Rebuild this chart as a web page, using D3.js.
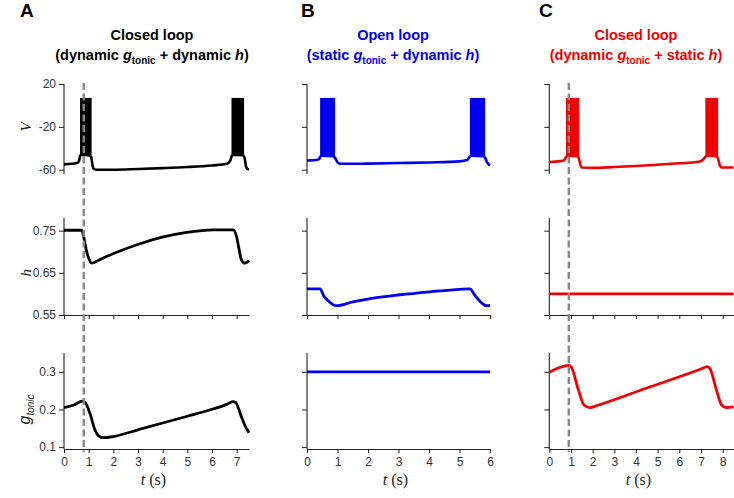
<!DOCTYPE html>
<html>
<head>
<meta charset="utf-8">
<script src="https://cdn.jsdelivr.net/npm/d3@7"></script>
<style>
  body { margin: 0; background: #fff; }
</style>
</head>
<body>
<svg id="chart" width="734" height="498"></svg>
<script>
// ---- data ----
// voltage traces (t, V) outside the spike bursts
const vA = [[0,-55],[0.3,-54.5],[0.55,-53.5],[0.62,-51],[0.65,-47],[0.7,-46],[1.0,-46.5],[1.1,-48],[1.15,-55],[1.2,-59],[1.3,-60],[2,-60],[3,-59.3],[4,-58.5],[5,-57.5],[6,-56],[6.6,-54.5],[6.75,-51],[6.8,-47],[6.85,-46],[7.25,-46.5],[7.32,-49],[7.38,-57],[7.45,-59.5],[7.5,-59.5]]
const vB = [[0,-51.5],[0.3,-51],[0.4,-50],[0.43,-48],[0.5,-47],[0.85,-47.5],[0.92,-49],[1.0,-53],[1.08,-54.5],[2,-54.3],[3,-53.8],[4,-53.2],[5,-52.2],[5.25,-51],[5.32,-48.5],[5.4,-47],[5.75,-47.5],[5.84,-49],[5.9,-53],[6,-56]]
const vC = [[0,-52.8],[0.5,-52],[0.7,-51],[0.77,-48],[0.85,-47],[1.3,-47.5],[1.37,-50],[1.43,-55],[1.5,-58],[2,-58.3],[3,-57.5],[4,-56.5],[5,-55.3],[6,-54],[6.9,-52.5],[7.1,-50.5],[7.2,-48],[7.3,-47],[7.7,-47.5],[7.79,-50],[7.87,-56],[7.95,-58],[8.5,-58]]
// spike bursts: [start, end, top V, bottom V]
const burstsA = [[0.65,1.12,7,-46.5],[6.79,7.3,7,-46.5]]
const burstsB = [[0.43,0.92,7,-47.5],[5.34,5.84,7,-47.5]]
const burstsC = [[0.77,1.37,7,-47.5],[7.2,7.79,7,-47.5]]
// h traces
const hA = [[0,0.751],[0.72,0.751],[0.8,0.735],[0.9,0.705],[1.0,0.685],[1.12,0.673],[1.5,0.683],[2.06,0.697],[3.08,0.719],[4.02,0.735],[4.97,0.746],[6.05,0.752],[6.86,0.752],[7.0,0.735],[7.1,0.705],[7.19,0.681],[7.33,0.673],[7.5,0.679]]
const hB = [[0,0.612],[0.43,0.612],[0.55,0.595],[0.7,0.583],[0.95,0.572],[1.5,0.581],[2.07,0.589],[3.05,0.598],[4.03,0.605],[5.02,0.611],[5.34,0.612],[5.5,0.597],[5.72,0.579],[5.88,0.572],[6,0.573]]
const hC = [[0,0.60],[8.5,0.60]]
// g_tonic traces
const gA = [[0,0.205],[0.4,0.212],[0.75,0.222],[0.85,0.219],[1.05,0.19],[1.26,0.145],[1.4,0.13],[1.6,0.125],[2,0.128],[3,0.146],[4,0.164],[5,0.182],[6,0.2005],[6.6,0.2135],[6.85,0.221],[6.95,0.219],[7.19,0.181],[7.33,0.158],[7.5,0.138]]
const gB = [[0,0.3],[6,0.3]]
const gC = [[0,0.299],[0.9,0.317],[1.02,0.312],[1.34,0.252],[1.6,0.212],[1.88,0.205],[2.2,0.2105],[4.5,0.257],[7.0,0.3075],[7.3,0.314],[7.42,0.308],[7.71,0.252],[7.95,0.212],[8.17,0.205],[8.5,0.207]]

const xTicksA = [0,1,2,3,4,5,6,7]
const xTicksB = [0,1,2,3,4,5,6]
const xTicksC = [0,1,2,3,4,5,6,7,8]
const vTicks = [-60,-20,20]
const hTicks = [0.55,0.65,0.75]
const gTicks = [0.1,0.2,0.3]
const markerTimes = [0.8, null, 0.9]

const panelLetters = ['A','B','C']
const titleLine1 = ['Closed loop','Open loop','Closed loop']
const titleLine2 = [['dynamic','dynamic'],['static','dynamic'],['dynamic','static']]
const colors = ['#000000','#0000f0','#f00000']

// ---- layout ----
const SANS = '"Liberation Sans", Arial, Helvetica, sans-serif'
const SERIF = '"Liberation Serif", "Times New Roman", serif'

const panels = [
    {x0: 64, x1: 249, tmax: 7.5, ticks: xTicksA, v: vA, bursts: burstsA, h: hA, g: gA, cx: 152, lx: 20},
    {x0: 307, x1: 490, tmax: 6, ticks: xTicksB, v: vB, bursts: burstsB, h: hB, g: gB, cx: 393, lx: 301},
    {x0: 549.3, x1: 733.5, tmax: 8.5, ticks: xTicksC, v: vC, bursts: burstsC, h: hC, g: gC, cx: 636, lx: 539}
]

const svg = d3.select('#chart')

const yV = d3.scaleLinear().domain([-64, 20]).range([174, 84])
const yH = d3.scaleLinear().domain([0.55, 0.78]).range([315, 218])
const yG = d3.scaleLinear().domain([0.095, 0.35]).range([449, 353])

panels.forEach(function(p, i) {
    let x = d3.scaleLinear().domain([0, p.tmax]).range([p.x0, p.x1])
    let color = colors[i]
    let g = svg.append('g')

    // panel letter
    g.append('text')
        .attr('x', p.lx)
        .attr('y', 17)
        .style('font-family', SANS)
        .attr('font-size', '19px')
        .attr('font-weight', 'bold')
        .text(panelLetters[i])

    // titles
    g.append('text')
        .attr('x', p.cx).attr('y', 40)
        .attr('text-anchor', 'middle')
        .style('font-family', SANS)
        .attr('font-size', '14.5px').attr('font-weight', 'bold')
        .attr('fill', color)
        .text(titleLine1[i])
    let t2 = g.append('text')
        .attr('x', p.cx).attr('y', 60)
        .attr('text-anchor', 'middle')
        .style('font-family', SANS)
        .attr('font-size', '14.5px').attr('font-weight', 'bold')
        .attr('fill', color)
    t2.append('tspan').text('(' + titleLine2[i][0] + ' ')
    t2.append('tspan').attr('font-style', 'italic').text('g')
    t2.append('tspan').attr('font-size', '10px').attr('dy', 4).text('tonic')
    t2.append('tspan').attr('dy', -4).text(' + ' + titleLine2[i][1] + ' ')
    t2.append('tspan').attr('font-style', 'italic').text('h')
    t2.append('tspan').text(')')

    // axes
    let showLabels = i === 0
    function yAxis(scale, ticks) {
        let ax = g.append('g').attr('transform', 'translate(' + p.x0 + ',0)')
            .call(d3.axisLeft(scale).tickValues(ticks).tickSize(5).tickSizeOuter(0)
                .tickFormat(showLabels ? (d => String(d)) : ''))
        ax.select('.domain').remove()
        ax.append('line').attr('x1', 0).attr('x2', 0)
            .attr('y1', scale.range()[1]).attr('y2', scale.range()[0])
            .attr('stroke', '#222').attr('stroke-width', 1.1)
        ax.selectAll('.tick line').attr('stroke', '#222')
        ax.selectAll('.tick text').attr('fill', '#333').attr('font-size', '12px')
            .style('font-family', SANS).attr('x', -8)
        return ax
    }
    yAxis(yV, vTicks)
    yAxis(yH, hTicks)
    yAxis(yG, gTicks)

    function xAxis(yPos, labels) {
        let ax = g.append('g').attr('transform', 'translate(0,' + yPos + ')')
            .call(d3.axisBottom(x).tickValues(p.ticks).tickSize(4).tickSizeOuter(0)
                .tickFormat(labels ? (d => String(d)) : ''))
        ax.select('.domain').attr('stroke', '#222').attr('stroke-width', 1.1)
        ax.selectAll('.tick line').attr('stroke', '#222')
        ax.selectAll('.tick text').attr('fill', '#333').attr('font-size', '12px')
            .style('font-family', SANS).attr('y', 8)
    }
    xAxis(yH.range()[0], false)
    xAxis(yG.range()[0], true)

    // x label
    let xl = g.append('text')
        .attr('x', (p.x0 + p.x1) / 2 - 3).attr('y', 485)
        .attr('text-anchor', 'middle')
        .attr('font-size', '16px')
        .style('font-family', SERIF)
        .attr('fill', '#222')
    xl.append('tspan').attr('font-style', 'italic').text('t')
    xl.append('tspan').text(' (s)')

    // y labels on panel A only
    if (i === 0) {
        g.append('text')
            .attr('transform', 'translate(31,' + yV(-20) + ') rotate(-90)')
            .attr('text-anchor', 'middle')
            .attr('font-size', '15px').attr('font-style', 'italic')
            .style('font-family', SERIF)
            .attr('fill', '#222')
            .text('V')
        g.append('text')
            .attr('transform', 'translate(31,' + yH(0.65) + ') rotate(-90)')
            .attr('text-anchor', 'middle')
            .attr('font-size', '15px').attr('font-style', 'italic')
            .style('font-family', SERIF)
            .attr('fill', '#222')
            .text('h')
        let gl = g.append('text')
            .attr('transform', 'translate(30,' + yG(0.2) + ') rotate(-90)')
            .attr('text-anchor', 'middle')
            .attr('font-size', '16px').attr('font-style', 'italic')
            .style('font-family', SANS)
            .attr('fill', '#222')
        gl.append('tspan').text('g')
        gl.append('tspan').attr('font-size', '10px').attr('dy', 4).text('tonic')
    }

    // traces
    let line = function(ys) {
        return d3.line().x(d => x(d[0])).y(d => ys(d[1])).curve(d3.curveMonotoneX)
    }
    g.selectAll('.burst').data(p.bursts).enter().append('rect')
        .attr('class', 'burst')
        .attr('x', d => x(d[0]))
        .attr('width', d => x(d[1]) - x(d[0]))
        .attr('y', d => yV(d[2]))
        .attr('height', d => yV(d[3]) - yV(d[2]))
        .attr('fill', color)
    g.append('path').datum(p.v).attr('d', line(yV))
        .attr('fill', 'none').attr('stroke', color).attr('stroke-width', 2.6)
    g.append('path').datum(p.h).attr('d', line(yH))
        .attr('fill', 'none').attr('stroke', color).attr('stroke-width', 2.8)
    g.append('path').datum(p.g).attr('d', line(yG))
        .attr('fill', 'none').attr('stroke', color).attr('stroke-width', 2.8)

    // dashed marker
    if (markerTimes[i] !== null) {
        g.append('line')
            .attr('x1', x(markerTimes[i])).attr('x2', x(markerTimes[i]))
            .attr('y1', 83).attr('y2', 452)
            .attr('stroke', '#888').attr('stroke-width', 2.4)
            .attr('stroke-dasharray', '7,3.5')
    }
})
</script>
</body>
</html>
